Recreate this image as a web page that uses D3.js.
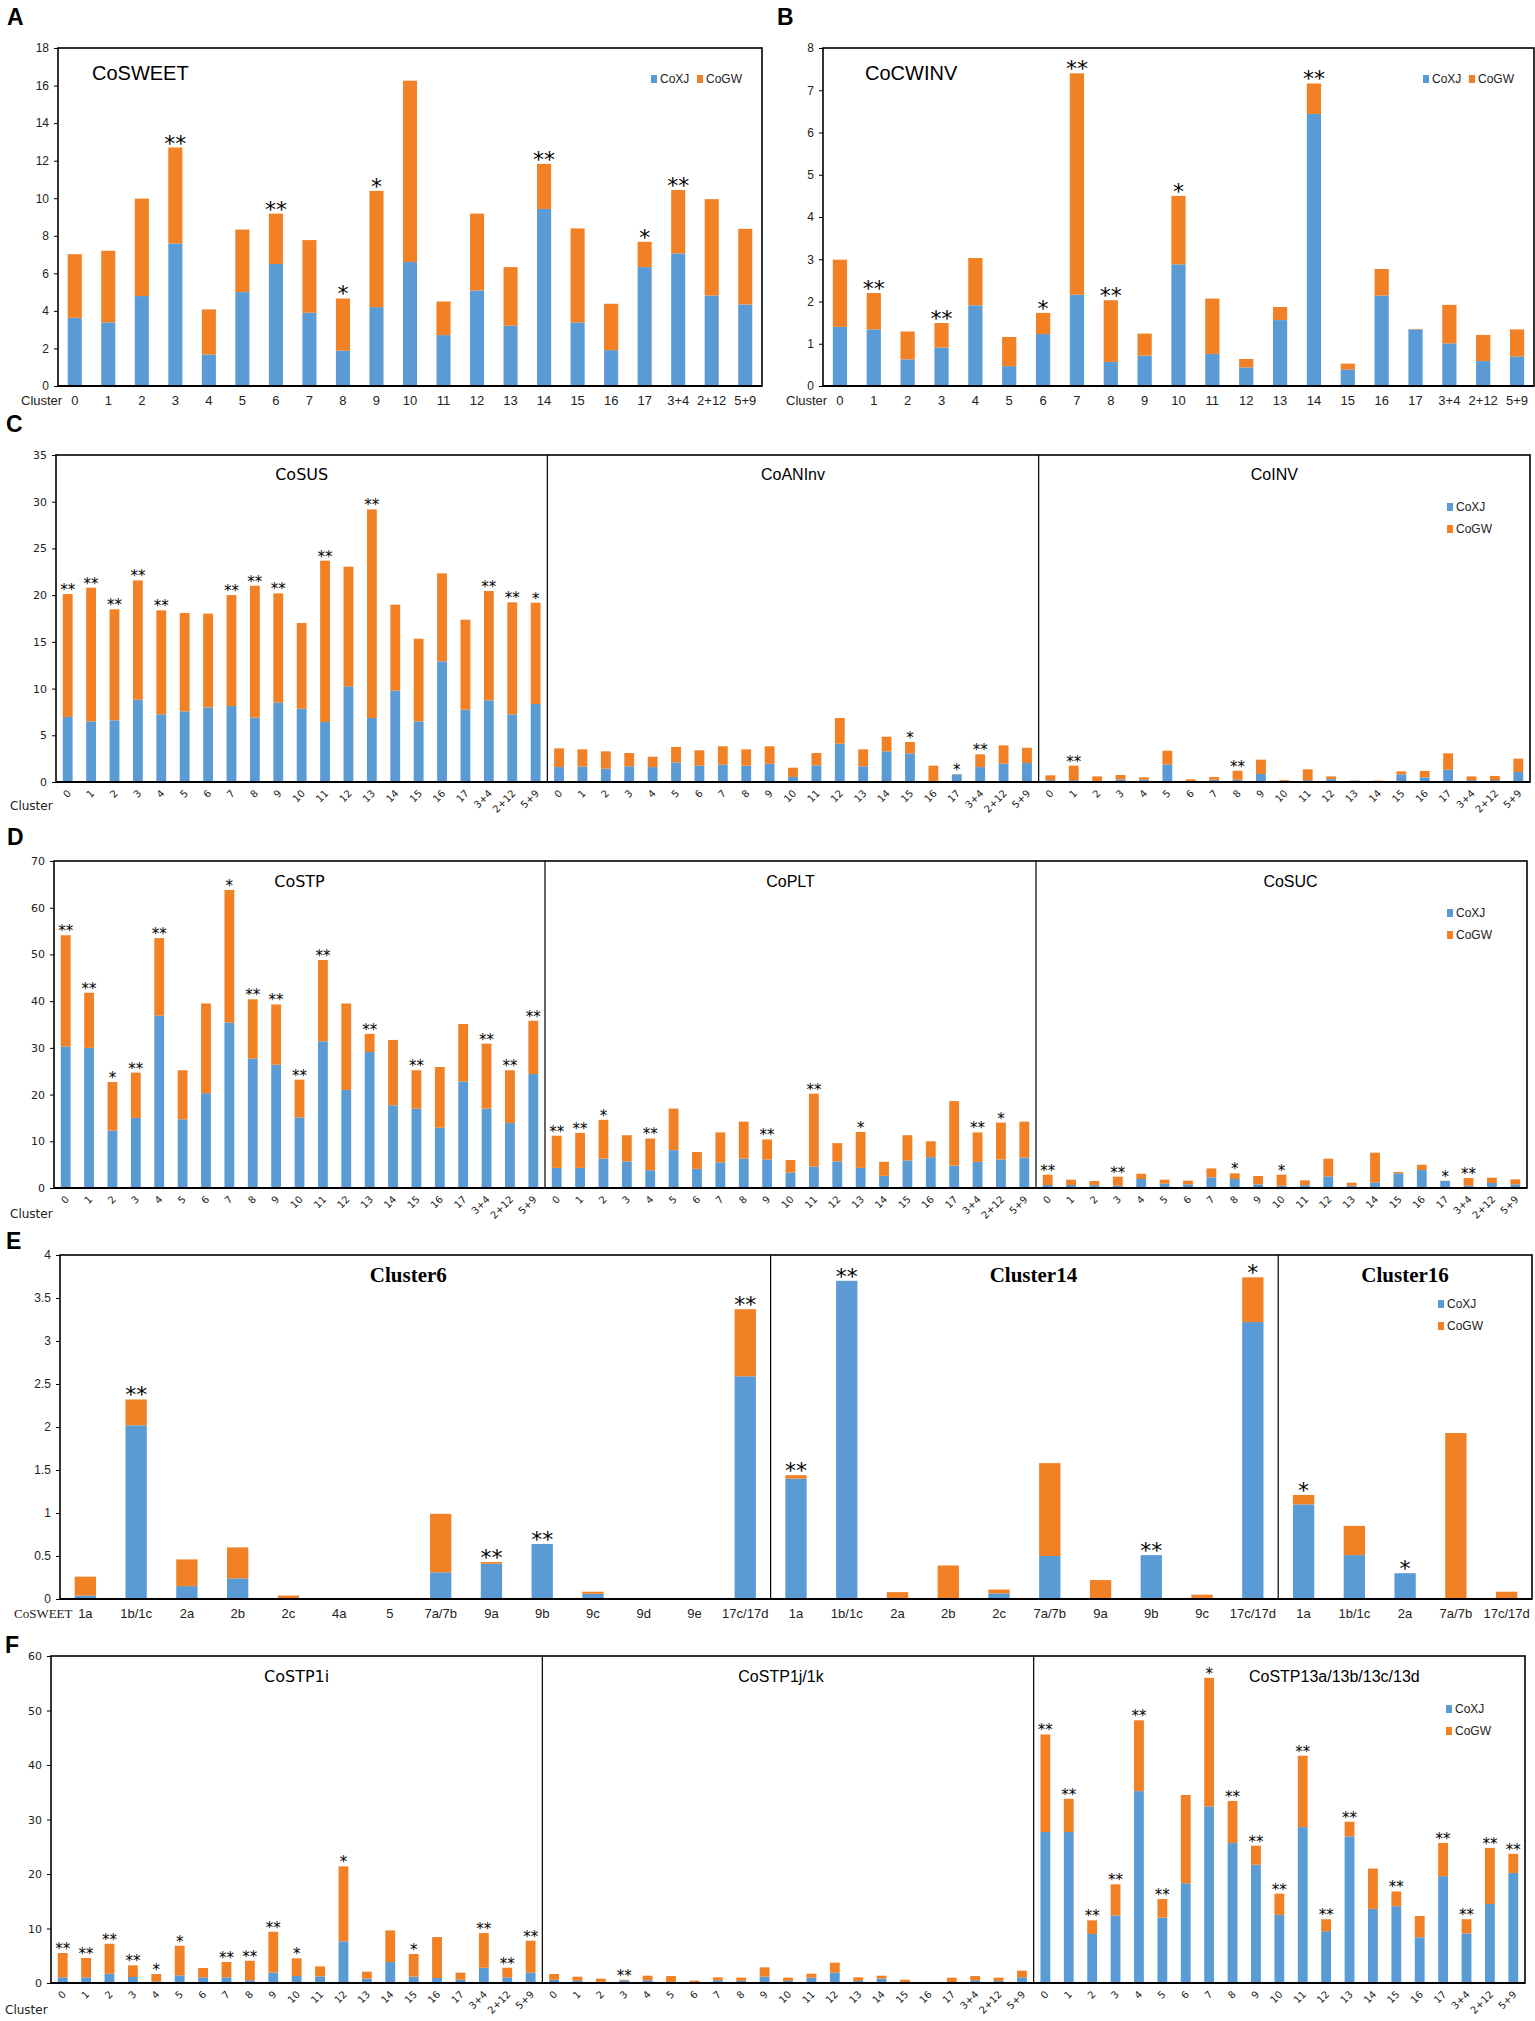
<!DOCTYPE html>
<html>
<head>
<meta charset="utf-8">
<script src="https://cdn.jsdelivr.net/npm/d3@7"></script>
<style>
  body { margin: 0; background: #fff; }
</style>
</head>
<body>
<div id="chart"></div>
<script>
// ---------- categories ----------
const clusters = ["0","1","2","3","4","5","6","7","8","9","10","11","12","13","14","15","16","17","3+4","2+12","5+9"];
const cats6  = ["1a","1b/1c","2a","2b","2c","4a","5","7a/7b","9a","9b","9c","9d","9e","17c/17d"];
const cats14 = ["1a","1b/1c","2a","2b","2c","7a/7b","9a","9b","9c","17c/17d"];
const cats16 = ["1a","1b/1c","2a","7a/7b","17c/17d"];

// ---------- tick labels ----------
const ticksA = [0,2,4,6,8,10,12,14,16,18];
const ticksB = [0,1,2,3,4,5,6,7,8];
const ticksC = [0,5,10,15,20,25,30,35];
const ticksD = [0,10,20,30,40,50,60,70];
const ticksE = [0,0.5,1,1.5,2,2.5,3,3.5,4];
const ticksF = [0,10,20,30,40,50,60];

// ---------- A: CoSWEET ----------
const sweetXJ = [3.63,3.39,4.79,7.59,1.68,5.00,6.50,3.90,1.88,4.20,6.60,2.71,5.09,3.21,9.43,3.39,1.91,6.33,7.06,4.82,4.34];
const sweetGW = [3.39,3.81,5.19,5.11,2.40,3.33,2.68,3.87,2.78,6.19,9.66,1.79,4.09,3.12,2.40,5.00,2.47,1.35,3.38,5.13,4.03];
const sweetSig = ["","","","**","","","**","","*","*","","","","","**","","","*","**","",""];

// ---------- B: CoCWINV ----------
const cwinvXJ = [1.40,1.34,0.63,0.91,1.91,0.47,1.23,2.16,0.57,0.72,2.88,0.76,0.44,1.56,6.44,0.39,2.14,1.34,1.01,0.59,0.70];
const cwinvGW = [1.59,0.86,0.66,0.58,1.12,0.69,0.50,5.24,1.46,0.52,1.62,1.31,0.20,0.31,0.72,0.14,0.63,0.01,0.91,0.62,0.64];
const cwinvSig = ["","**","","**","","","*","**","**","","*","","","","**","","","","","",""];

// ---------- C: CoSUS / CoANInv / CoINV ----------
const susXJ = [6.96,6.49,6.60,8.81,7.24,7.56,7.99,8.13,6.89,8.49,7.85,6.42,10.24,6.85,9.78,6.49,12.91,7.74,8.74,7.24,8.35];
const susGW = [13.16,14.31,11.88,12.77,11.13,10.53,10.03,11.88,14.12,11.70,9.17,17.27,12.81,22.33,9.20,8.85,9.42,9.63,11.70,11.99,10.84];
const susSig = ["**","**","**","**","**","","","**","**","**","","**","","**","","","","","**","**","*"];

const aninvXJ = [1.60,1.64,1.43,1.68,1.60,2.10,1.75,1.86,1.75,1.96,0.54,1.78,4.10,1.68,3.28,3.07,0.00,0.82,1.60,1.96,2.03];
const aninvGW = [2.00,1.86,1.85,1.42,1.11,1.65,1.64,1.96,1.75,1.86,0.99,1.32,2.75,1.82,1.57,1.21,1.75,0.03,1.36,1.96,1.64];
const aninvSig = ["","","","","","","","","","","","","","","","*","","*","**","",""];

const invXJ = [0.20,0.20,0.10,0.28,0.25,1.89,0.00,0.25,0.25,0.86,0.00,0.20,0.30,0.15,0.00,0.82,0.50,1.32,0.20,0.20,1.07];
const invGW = [0.51,1.55,0.50,0.47,0.25,1.46,0.28,0.29,0.96,1.53,0.20,1.16,0.30,0.00,0.15,0.32,0.68,1.75,0.40,0.45,1.43];
const invSig = ["","**","","","","","","","**","","","","","","","","","","","",""];

// ---------- D: CoSTP / CoPLT / CoSUC ----------
const stpXJ = [30.3,30.0,12.3,15.0,36.9,14.7,20.3,35.4,27.7,26.4,15.1,31.4,21.0,29.1,17.7,17.0,12.9,22.8,17.0,13.9,24.4];
const stpGW = [23.8,11.8,10.4,9.7,16.6,10.5,19.2,28.4,12.7,12.9,8.1,17.4,18.5,3.9,14.0,8.2,13.0,12.3,13.9,11.3,11.4];
const stpSig = ["**","**","*","**","**","","","*","**","**","**","**","","**","","**","","","**","**","**"];

const pltXJ = [4.3,4.3,6.3,5.7,3.8,8.1,4.1,5.5,6.3,6.1,3.3,4.6,5.7,4.3,2.6,5.9,6.6,4.8,5.6,6.1,6.5];
const pltGW = [6.9,7.5,8.3,5.6,6.8,8.9,3.6,6.4,7.9,4.3,2.7,15.6,3.9,7.7,3.0,5.4,3.4,13.8,6.3,7.9,7.7];
const pltSig = ["**","**","*","","**","","","","","**","","**","","*","","","","","**","*",""];

const sucXJ = [0.64,0.64,0.60,0.50,1.92,0.93,0.78,2.28,1.92,0.78,0.50,0.60,2.50,0.50,1.20,3.14,3.85,1.50,0.50,1.07,0.78];
const sucGW = [2.21,1.14,0.90,1.92,1.14,0.85,0.79,1.92,1.22,1.79,2.35,1.04,3.77,0.64,6.36,0.28,1.14,0.05,1.64,1.13,1.07];
const sucSig = ["**","","","**","","","","","*","","*","","","","","","","*","**","",""];

// ---------- E: CoSWEET members in clusters 6 / 14 / 16 ----------
const c6XJ = [0.04,2.02,0.15,0.24,0,0,0,0.31,0.41,0.64,0.06,0,0,2.59];
const c6GW = [0.22,0.30,0.31,0.36,0.04,0,0.01,0.68,0.02,0,0.025,0,0,0.78];
const c6Sig = ["","**","","","","","","","**","**","","","","**"];

const c14XJ = [1.40,3.70,0,0,0.066,0.50,0,0.51,0,3.22];
const c14GW = [0.04,0,0.08,0.39,0.044,1.08,0.22,0,0.05,0.52];
const c14Sig = ["**","**","","","","","","**","","*"];

const c16XJ = [1.10,0.51,0.30,0,0];
const c16GW = [0.11,0.34,0,1.93,0.085];
const c16Sig = ["*","","*","",""];

// ---------- F: CoSTP1i / CoSTP1j/1k / CoSTP13a-d ----------
const stp1iXJ = [1.04,1.04,1.7,1.1,0.3,1.4,1.04,1.04,0.5,1.9,1.28,1.22,7.64,0.8,3.85,1.16,0.92,0.6,2.8,1.04,1.9];
const stp1iGW = [4.46,3.54,5.5,2.14,1.35,5.44,1.71,2.81,3.59,7.5,3.24,1.83,13.76,1.28,5.8,4.15,7.51,1.3,6.36,1.76,5.86];
const stp1iSig = ["**","**","**","**","*","*","","**","**","**","*","","*","","","*","","","**","**","**"];

const stp1jXJ = [0.6,0.4,0.2,0.5,0.5,0.1,0,0.5,0.4,1.16,0.4,0.98,1.9,0.4,0.8,0.1,0,0.1,0.5,0.4,1.04];
const stp1jGW = [1.05,0.76,0.6,0.1,0.84,1.18,0.43,0.54,0.58,1.71,0.58,0.73,1.83,0.64,0.54,0.5,0.1,0.88,0.78,0.58,1.22];
const stp1jSig = ["","","","**","","","","","","","","","","","","","","","","",""];

const stp13XJ = [27.7,27.7,9.0,12.4,35.2,12.0,18.3,32.4,25.7,21.7,12.5,28.6,9.5,26.9,13.6,14.1,8.4,19.6,9.1,14.5,20.2];
const stp13GW = [17.9,6.1,2.5,5.7,13.0,3.4,16.2,23.6,7.7,3.5,3.9,13.1,2.2,2.7,7.4,2.7,3.9,6.1,2.6,10.3,3.5];
const stp13Sig = ["**","**","**","**","**","**","","*","**","**","**","**","**","**","","**","","**","**","**","**"];

// ---------- drawing ----------
const W = 1535, H = 2021;
const BLUE = "#5B9BD5", ORANGE = "#F28025";
const NARROW = "'Liberation Sans Narrow','Arial Narrow',sans-serif";
const SANS = "'DejaVu Sans',Verdana,sans-serif";
const SERIF = "'Liberation Serif','Times New Roman',serif";
const BOLD = "'Liberation Sans',Arial,sans-serif";

const svg = d3.select("#chart").append("svg")
  .attr("width", W).attr("height", H)
  .style("background", "#fff");

function drawPanel(p) {
  const g = svg.append("g");
  const y = d3.scaleLinear().domain([0, p.yMax]).range([p.bottom, p.top]);

  // y axis
  const ax = g.append("g")
    .attr("transform", `translate(${p.x0},0)`)
    .call(d3.axisLeft(y).tickValues(p.ticks).tickSize(4).tickPadding(5).tickFormat(d => String(d)));
  ax.select(".domain").remove();
  ax.selectAll("line").attr("stroke", "#000");
  ax.selectAll("text")
    .style("font-family", p.tickFont)
    .style("font-size", p.tickSize + "px")
    .attr("fill", "#222");

  const nTot = d3.sum(p.sections, s => s.cats.length);
  const span = p.x1 - p.x0;
  let start = p.x0;

  p.sections.forEach((s, si) => {
    const w = span * s.cats.length / nTot;
    const x = d3.scaleBand().domain(s.cats).range([start, start + w])
      .paddingInner(0.58).paddingOuter(0.29);

    const rows = s.cats.map((c, i) => ({ cat: c, xj: s.xj[i], gw: s.gw[i], sig: s.sig[i] }));
    const layers = d3.stack().keys(["xj", "gw"])(rows);
    const colors = { xj: BLUE, gw: ORANGE };

    layers.forEach(layer => {
      g.append("g").selectAll("rect")
        .data(layer)
        .join("rect")
        .attr("x", d => x(d.data.cat))
        .attr("y", d => y(d[1]))
        .attr("width", x.bandwidth())
        .attr("height", d => Math.max(0, y(d[0]) - y(d[1])))
        .attr("fill", colors[layer.key]);
    });

    // significance stars
    g.append("g").selectAll("text")
      .data(layers[1].filter(d => d.data.sig))
      .join("text")
      .attr("x", d => x(d.data.cat) + x.bandwidth() / 2)
      .attr("y", d => y(d[1]) + p.starDy)
      .attr("text-anchor", "middle")
      .style("font-family", SANS)
      .style("font-size", p.starSize + "px")
      .text(d => d.data.sig);

    // x labels
    const lab = g.append("g").selectAll("text")
      .data(s.cats)
      .join("text")
      .style("font-family", p.xFont)
      .style("font-size", p.xSize + "px")
      .attr("fill", "#222")
      .text(d => d);
    if (p.rotate) {
      lab.attr("text-anchor", "end")
        .attr("transform", d => `translate(${x(d) + x.bandwidth() / 2 + 4},${p.bottom + 12}) rotate(-45)`);
    } else {
      lab.attr("text-anchor", "middle")
        .attr("x", d => x(d) + x.bandwidth() / 2)
        .attr("y", p.bottom + 19);
    }

    // section title
    const t = g.append("text")
      .style("font-family", s.titleFont || p.titleFont)
      .style("font-size", p.titleSize + "px")
      .style("font-weight", p.titleWeight || "normal")
      .text(s.title);
    if (p.titleLeft) {
      t.attr("x", start + p.titleLeft).attr("y", p.top + p.titleDy);
    } else {
      t.attr("x", start + w / 2 + (s.titleDx || 0)).attr("y", p.top + p.titleDy).attr("text-anchor", "middle");
    }

    if (si > 0) {
      g.append("line")
        .attr("x1", start).attr("x2", start)
        .attr("y1", p.top).attr("y2", p.bottom)
        .attr("stroke", "#000").attr("stroke-width", 1.2);
    }
    start += w;
  });

  // frame
  g.append("rect")
    .attr("x", p.x0).attr("y", p.top)
    .attr("width", span).attr("height", p.bottom - p.top)
    .attr("fill", "none").attr("stroke", "#000").attr("stroke-width", 1.6);
  g.append("line")
    .attr("x1", p.x0).attr("x2", p.x1)
    .attr("y1", p.bottom).attr("y2", p.bottom)
    .attr("stroke", "#000").attr("stroke-width", 2.2);

  // legend
  const lg = g.append("g").style("font-family", NARROW).style("font-size", "12px");
  const items = [["CoXJ", BLUE], ["CoGW", ORANGE]];
  items.forEach(([name, col], i) => {
    const lx = p.legend.inline ? p.legend.x + i * 46 : p.legend.x;
    const ly = p.legend.inline ? p.legend.y : p.legend.y + i * 22;
    lg.append("rect").attr("x", lx).attr("y", ly - 4).attr("width", 6).attr("height", 8).attr("fill", col);
    lg.append("text").attr("x", lx + 9).attr("y", ly + 4).attr("fill", "#222").text(name);
  });

  // "Cluster" / row label
  g.append("text")
    .attr("x", p.rowLabel.x).attr("y", p.rowLabel.y)
    .style("font-family", p.rowLabel.font)
    .style("font-size", p.rowLabel.size + "px")
    .attr("fill", "#222")
    .text(p.rowLabel.text);
}

// A
drawPanel({
  x0: 58, x1: 762, top: 48, bottom: 386, yMax: 18, ticks: ticksA,
  tickFont: NARROW, tickSize: 12, xFont: NARROW, xSize: 13, rotate: false,
  starSize: 22, starDy: 3, titleFont: NARROW, titleSize: 20, titleDy: 32, titleLeft: 34,
  legend: { inline: true, x: 651, y: 79 },
  rowLabel: { text: "Cluster", x: 21, y: 405, font: NARROW, size: 13 },
  sections: [{ cats: clusters, xj: sweetXJ, gw: sweetGW, sig: sweetSig, title: "CoSWEET" }]
});

// B
drawPanel({
  x0: 823, x1: 1534, top: 48, bottom: 386, yMax: 8, ticks: ticksB,
  tickFont: NARROW, tickSize: 12, xFont: NARROW, xSize: 13, rotate: false,
  starSize: 22, starDy: 3, titleFont: NARROW, titleSize: 20, titleDy: 32, titleLeft: 42,
  legend: { inline: true, x: 1423, y: 79 },
  rowLabel: { text: "Cluster", x: 786, y: 405, font: NARROW, size: 13 },
  sections: [{ cats: clusters, xj: cwinvXJ, gw: cwinvGW, sig: cwinvSig, title: "CoCWINV" }]
});

// C
drawPanel({
  x0: 56, x1: 1530, top: 455, bottom: 782, yMax: 35, ticks: ticksC,
  tickFont: SANS, tickSize: 11, xFont: SANS, xSize: 10, rotate: true,
  starSize: 15, starDy: 1, titleFont: SANS, titleSize: 16, titleDy: 25,
  legend: { inline: false, x: 1447, y: 507 },
  rowLabel: { text: "Cluster", x: 10, y: 810, font: SANS, size: 12 },
  sections: [
    { cats: clusters, xj: susXJ, gw: susGW, sig: susSig, title: "CoSUS" },
    { cats: clusters, xj: aninvXJ, gw: aninvGW, sig: aninvSig, title: "CoANInv", titleFont: NARROW },
    { cats: clusters, xj: invXJ, gw: invGW, sig: invSig, title: "CoINV", titleFont: NARROW, titleDx: -10 }
  ]
});

// D
drawPanel({
  x0: 54, x1: 1527, top: 861, bottom: 1188, yMax: 70, ticks: ticksD,
  tickFont: SANS, tickSize: 11, xFont: SANS, xSize: 10, rotate: true,
  starSize: 15, starDy: 1, titleFont: SANS, titleSize: 16, titleDy: 26,
  legend: { inline: false, x: 1447, y: 913 },
  rowLabel: { text: "Cluster", x: 10, y: 1218, font: SANS, size: 12 },
  sections: [
    { cats: clusters, xj: stpXJ, gw: stpGW, sig: stpSig, title: "CoSTP" },
    { cats: clusters, xj: pltXJ, gw: pltGW, sig: pltSig, title: "CoPLT", titleFont: NARROW },
    { cats: clusters, xj: sucXJ, gw: sucGW, sig: sucSig, title: "CoSUC", titleFont: NARROW, titleDx: 9 }
  ]
});

// E
drawPanel({
  x0: 60, x1: 1532, top: 1255, bottom: 1599, yMax: 4, ticks: ticksE,
  tickFont: NARROW, tickSize: 12, xFont: NARROW, xSize: 13, rotate: false,
  starSize: 22, starDy: 3, titleFont: SERIF, titleSize: 21, titleWeight: "bold", titleDy: 27,
  legend: { inline: false, x: 1438, y: 1304 },
  rowLabel: { text: "CoSWEET", x: 14, y: 1618, font: SERIF, size: 13 },
  sections: [
    { cats: cats6, xj: c6XJ, gw: c6GW, sig: c6Sig, title: "Cluster6", titleDx: -7 },
    { cats: cats14, xj: c14XJ, gw: c14GW, sig: c14Sig, title: "Cluster14", titleDx: 9 },
    { cats: cats16, xj: c16XJ, gw: c16GW, sig: c16Sig, title: "Cluster16" }
  ]
});

// F
drawPanel({
  x0: 51, x1: 1525, top: 1656, bottom: 1983, yMax: 60, ticks: ticksF,
  tickFont: SANS, tickSize: 11, xFont: SANS, xSize: 10, rotate: true,
  starSize: 15, starDy: 1, titleFont: SANS, titleSize: 16, titleDy: 26,
  legend: { inline: false, x: 1446, y: 1709 },
  rowLabel: { text: "Cluster", x: 5, y: 2014, font: SANS, size: 12 },
  sections: [
    { cats: clusters, xj: stp1iXJ, gw: stp1iGW, sig: stp1iSig, title: "CoSTP1i" },
    { cats: clusters, xj: stp1jXJ, gw: stp1jGW, sig: stp1jSig, title: "CoSTP1j/1k", titleFont: NARROW, titleDx: -7 },
    { cats: clusters, xj: stp13XJ, gw: stp13GW, sig: stp13Sig, title: "CoSTP13a/13b/13c/13d", titleFont: NARROW, titleDx: 55 }
  ]
});

// panel letters
const letters = [["A", 7, 25], ["B", 777, 25], ["C", 6, 432], ["D", 7, 845], ["E", 6, 1249], ["F", 5, 1653]];
svg.selectAll("text.panel-letter")
  .data(letters)
  .join("text")
  .attr("class", "panel-letter")
  .attr("x", d => d[1]).attr("y", d => d[2])
  .style("font-family", BOLD)
  .style("font-size", "23px")
  .style("font-weight", "bold")
  .text(d => d[0]);
</script>
</body>
</html>
